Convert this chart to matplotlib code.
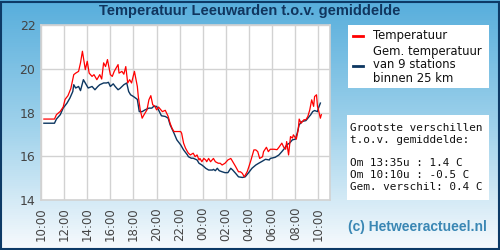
import matplotlib
matplotlib.use("Agg")
import matplotlib.pyplot as plt
import matplotlib.dates as mdates
from matplotlib.colors import LinearSegmentedColormap
from matplotlib.patches import Rectangle
import numpy as np
import pandas as pd

# Temperatuur Leeuwarden (red line)
temp_times = [
    "10:15", "11:10", "11:20", "11:40", "11:55", "12:05", "12:20", "12:35", "12:50", "13:00",
    "13:15", "13:25", "13:35", "13:50", "14:00", "14:10", "14:25", "14:35", "14:50", "15:05",
    "15:15", "15:25", "15:35", "15:45", "16:00", "16:10", "16:20", "16:40", "16:45", "17:00",
    "17:10", "17:20", "17:30", "17:40", "17:50", "18:05", "18:20", "18:25", "18:35", "18:45",
    "18:55", "19:10", "19:20", "19:30", "19:40", "19:50", "20:00", "20:10", "20:30", "20:45",
    "21:00", "21:10", "21:20", "21:30", "21:45", "22:05", "22:10", "22:20", "22:30", "22:40",
    "22:45", "22:55", "23:10", "23:20", "23:30", "23:40", "23:45", "23:55", "00:05", "00:15",
    "00:20", "00:30", "00:40", "00:55", "01:05", "01:20", "01:30", "01:40", "01:55", "02:10",
    "02:25", "02:30", "02:40", "02:50", "03:05", "03:15", "03:25", "03:35", "03:50", "04:00",
    "04:10", "04:25", "04:35", "04:45", "04:55", "05:10", "05:15", "05:30", "05:40", "05:50",
    "06:10", "06:25", "06:35", "06:50", "07:00", "07:10", "07:15", "07:25", "07:35", "07:45",
    "07:50", "08:05", "08:15", "08:20", "08:30", "08:45", "08:55", "09:05", "09:15", "09:25",
    "09:35", "09:40", "09:50", "09:55", "10:00", "10:10", "10:15",
]
temp_values = [
    17.70, 17.70, 17.90, 18.05, 18.25, 18.60, 18.77, 19.10, 19.73, 19.80,
    19.88, 20.27, 20.80, 19.96, 20.34, 19.80, 19.65, 19.73, 19.50, 19.73,
    19.53, 20.27, 20.10, 20.42, 19.73, 19.65, 19.88, 20.19, 19.80, 19.88,
    19.75, 20.10, 19.35, 19.50, 19.35, 19.88, 19.19, 18.73, 18.12, 17.74,
    17.90, 18.12, 18.58, 18.77, 18.35, 18.30, 18.12, 18.25, 18.04, 18.10,
    17.82, 17.51, 17.28, 17.13, 17.13, 17.13, 17.05, 16.60, 16.37, 16.21,
    16.14, 16.06, 16.14, 15.98, 16.06, 15.83, 15.90, 15.75, 15.90, 15.83,
    15.75, 15.90, 15.75, 15.90, 15.75, 15.68, 15.68, 15.60, 15.68, 15.83,
    15.90, 15.83, 15.68, 15.53, 15.29, 15.29, 15.22, 15.06, 15.29, 15.55,
    15.83, 16.29, 16.29, 16.21, 15.90, 15.98, 16.21, 16.41, 16.21, 16.32,
    16.32, 16.30, 16.41, 16.60, 16.41, 16.32, 16.67, 16.06, 16.90, 16.83,
    16.98, 16.78, 17.21, 17.70, 17.51, 17.67, 17.67, 17.82, 18.12, 18.58,
    18.28, 18.73, 18.81, 18.28, 18.12, 17.74, 17.90,
]

# Gem. temperatuur van 9 stations binnen 25 km (navy line)
avg_times = [
    "10:15", "11:10", "11:20", "11:40", "11:55", "12:15", "12:30", "12:45", "12:50", "13:00",
    "13:15", "13:25", "13:40", "13:55", "14:05", "14:25", "14:40", "14:55", "15:05", "15:25",
    "15:40", "15:50", "16:00", "16:15", "16:25", "16:40", "16:50", "17:10", "17:25", "17:35",
    "17:45", "18:00", "18:20", "18:30", "18:45", "19:00", "19:20", "19:35", "19:45", "20:00",
    "20:10", "20:25", "20:45", "21:00", "21:10", "21:30", "21:45", "22:05", "22:20", "22:40",
    "22:45", "23:00", "23:10", "23:30", "23:40", "23:55", "00:05", "00:15", "00:30", "00:50",
    "00:55", "01:05", "01:15", "01:25", "01:40", "01:55", "02:10", "02:25", "02:35", "02:50",
    "03:05", "03:25", "03:40", "03:55", "04:15", "04:35", "04:50", "05:10", "05:25", "05:45",
    "05:50", "06:15", "06:35", "06:50", "07:05", "07:15", "07:30", "07:45", "08:00", "08:10",
    "08:20", "08:35", "08:55", "09:05", "09:20", "09:30", "09:40", "09:55", "10:00", "10:10",
]
avg_values = [
    17.51, 17.51, 17.70, 17.90, 18.20, 18.43, 18.66, 18.96, 19.27, 19.12,
    19.19, 19.00, 19.50, 19.27, 19.12, 19.19, 19.04, 19.19, 19.27, 19.35,
    19.35, 19.38, 19.19, 19.31, 19.19, 19.04, 19.10, 19.27, 19.35, 18.96,
    18.81, 18.73, 18.60, 18.04, 18.04, 18.12, 18.20, 18.20, 18.28, 18.28,
    18.12, 17.85, 17.82, 17.74, 17.44, 17.06, 16.75, 16.52, 16.29, 16.06,
    15.98, 15.91, 15.91, 15.83, 15.68, 15.60, 15.53, 15.45, 15.37, 15.37,
    15.40, 15.34, 15.45, 15.34, 15.29, 15.25, 15.25, 15.45, 15.37, 15.22,
    15.06, 15.03, 15.06, 15.22, 15.45, 15.60, 15.68, 15.78, 15.86, 15.83,
    15.90, 15.95, 16.06, 16.21, 16.37, 16.52, 16.60, 16.75, 16.78, 17.06,
    17.44, 17.59, 17.63, 17.74, 17.90, 18.04, 18.09, 18.04, 18.20, 18.43,
]

y_ticks = [14, 16, 18, 20, 22]
stats_text = ("Grootste verschillen\nt.o.v. gemiddelde:\n\n"
              "Om 13:35u : 1.4 C\nOm 10:10u : -0.5 C\nGem. verschil: 0.4 C")


def to_datetimes(times, start="2024-01-01"):
    # times wrap past midnight, so bump the day whenever the clock goes back
    day = pd.Timestamp(start)
    out, prev = [], None
    for t in times:
        ts = pd.Timestamp(f"{day.date()} {t}")
        if prev is not None and ts < prev:
            day += pd.Timedelta(days=1)
            ts = pd.Timestamp(f"{day.date()} {t}")
        out.append(ts)
        prev = ts
    return out


t_red = to_datetimes(temp_times)
t_avg = to_datetimes(avg_times)

fig = plt.figure(figsize=(5, 2.5), dpi=100)

# background gradient: blue at the top (y=1) fading to near white at the bottom (y=0)
bg = fig.add_axes([0, 0, 1, 1], zorder=-10)
cmap = LinearSegmentedColormap.from_list("bg", [(0.97, 0.98, 0.99), (0.62, 0.82, 0.92), (0.34, 0.68, 0.86)])
gy = np.linspace(0, 1, 129)
bg.pcolormesh([0, 1], gy, np.tile(((gy[:-1] + gy[1:]) / 2)[:, None], (1, 1)), cmap=cmap,
              vmin=0, vmax=1, shading="flat")
bg.set_xlim(0, 1)
bg.set_ylim(0, 1)
bg.axis("off")
bg.add_patch(Rectangle((0.002, 0.004), 0.996, 0.99, transform=bg.transAxes, fill=False,
                       edgecolor="#0d3a66", linewidth=1.5))

fig.text(0.5, 0.958, "Temperatuur Leeuwarden t.o.v. gemiddelde", ha="center", va="center",
         fontsize=10.5, fontweight="bold", color="#10355e", family="Liberation Sans")

ax = fig.add_axes([41 / 500, 50 / 250, 289 / 500, 175 / 250])
ax.set_facecolor("white")
ax.plot(t_avg, avg_values, color="#0c3660", linewidth=1.0)
ax.plot(t_red, temp_values, color="#ff0000", linewidth=0.9)

x0 = pd.Timestamp("2024-01-01 10:00")
ax.set_xlim(x0, x0 + pd.Timedelta(hours=25))
ax.set_ylim(14, 22)
ax.set_yticks(y_ticks)
ax.xaxis.set_major_locator(mdates.HourLocator(byhour=range(0, 24, 2)))
ax.xaxis.set_major_formatter(mdates.DateFormatter("%H:%M"))
ax.grid(color="#d2d2d2", linewidth=1.0)
ax.set_axisbelow(True)
for s in ax.spines.values():
    s.set_color("#d2d2d2")
    s.set_linewidth(1.2)
ax.tick_params(length=0, labelsize=9, colors="#444444", pad=4)
ax.tick_params(axis="x", labelsize=8.5, rotation=90, pad=5)

# legend box
leg = fig.add_axes([348 / 500, 162 / 250, 141 / 500, 63 / 250])
leg.set_xticks([])
leg.set_yticks([])
leg.set_xlim(0, 141)
leg.set_ylim(63, 0)
for s in leg.spines.values():
    s.set_visible(False)
leg.plot([5, 15], [11, 11], color="#ff0000", linewidth=2)
leg.text(25, 11, "Temperatuur", va="center", fontsize=8.4, color="#111111")
leg.plot([5, 15], [41, 41], color="#0c3660", linewidth=2)
leg.text(25, 40, "Gem. temperatuur\nvan 9 stations\nbinnen 25 km", va="center", fontsize=8.4,
         color="#111111", linespacing=1.0)

# stats box
st = fig.add_axes([347 / 500, 50 / 250, 142 / 500, 85 / 250])
st.set_xticks([])
st.set_yticks([])
for s in st.spines.values():
    s.set_visible(False)
st.text(0.02, 0.5, stats_text, transform=st.transAxes, va="center", ha="left",
        family="DejaVu Sans Mono", fontsize=7.9, color="#111111", linespacing=1.22)

fig.text(0.974, 0.09, "(c) Hetweeractueel.nl", ha="right", va="center", fontsize=10,
         fontweight="bold", color="#3a87b4", family="Liberation Sans")

fig.savefig("out.png", dpi=100)
plt.close(fig)
